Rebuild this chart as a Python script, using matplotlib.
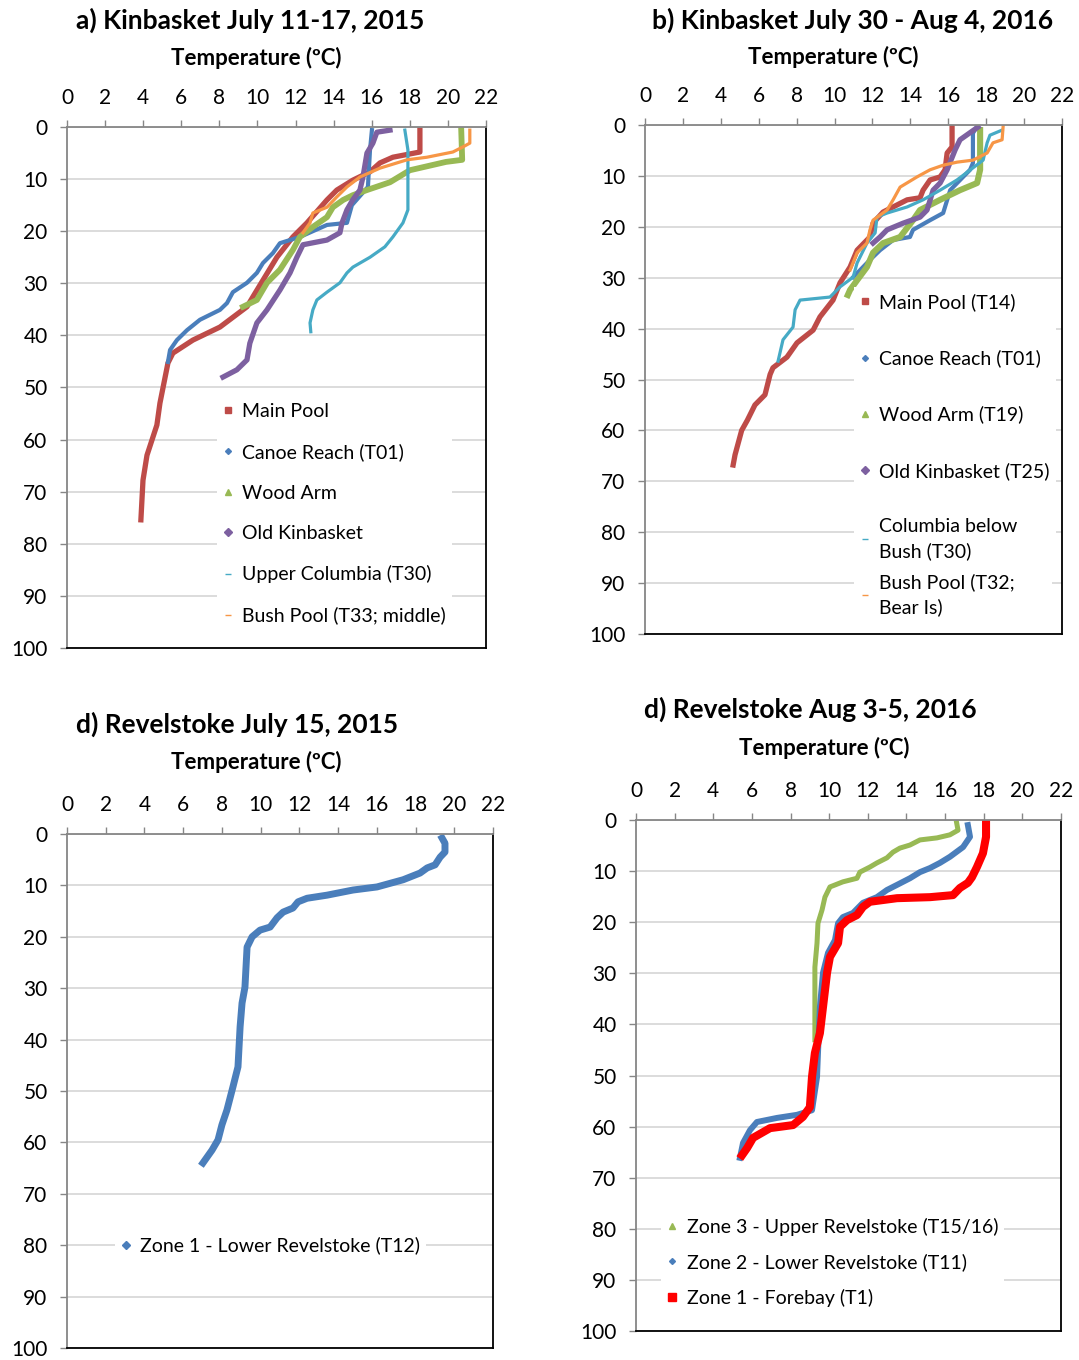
import matplotlib.pyplot as plt
from matplotlib.lines import Line2D

"""
Temperature profiles: Kinbasket and Revelstoke reservoirs, 2015 and 2016.
Depth (m) on the reversed y axis, temperature on the top x axis.
"""

plt.rcParams["font.family"] = ["Lato", "DejaVu Sans"]

RED = "#BE4B48"
BLUE = "#4A7EBB"
GREEN = "#98B954"
PURPLE = "#7D60A0"
TEAL = "#46AAC5"
ORANGE = "#F79646"

# ---- a) Kinbasket July 11-17, 2015 ----
a_main_t = [18.53, 18.53, 17.11, 16.43, 15.91, 15.01, 14.17, 13.65, 12.60, 11.86, 11.02, 10.29,
            9.76, 9.45, 8.03, 6.61, 5.56, 5.30, 4.88, 4.72, 4.46, 4.20, 3.99, 3.88]
a_main_d = [0.6, 4.8, 5.8, 6.9, 8.6, 10.2, 12.1, 14.0, 18.4, 21.1, 25.0, 29.4,
            32.6, 34.5, 38.4, 40.9, 43.4, 45.3, 53.0, 57.2, 60.1, 63.0, 67.8, 75.4]
a_canoe_t = [16.01, 15.91, 15.80, 14.96, 14.70, 13.65, 12.23, 11.18, 10.81, 10.29, 9.97, 9.45,
             8.71, 8.40, 8.03, 6.98, 6.30, 5.77, 5.41, 5.30]
a_canoe_d = [0.6, 4.4, 11.5, 15.0, 18.4, 18.8, 21.1, 22.3, 24.2, 26.1, 28.0, 29.9,
             31.7, 33.8, 35.1, 37.0, 39.0, 40.9, 42.8, 45.1]
a_wood_t = [20.7, 20.75, 19.9, 18.0, 16.96, 15.75, 15.0, 14.5, 13.96, 13.65, 12.9, 12.23,
            11.86, 11.18, 10.5, 9.97, 9.24]
a_wood_d = [0.6, 6.3, 6.7, 8.3, 10.6, 12.1, 13.1, 14.0, 15.4, 17.3, 19.2, 21.1,
            23.6, 27.4, 29.9, 33.2, 34.5]
a_old_t = [16.96, 16.27, 16.06, 15.75, 15.54, 15.38, 15.0, 14.7, 14.44, 14.33, 13.65, 12.39,
           12.07, 11.71, 11.18, 10.5, 9.97, 9.6, 9.45, 8.92, 8.19]
a_old_d = [0.6, 1.0, 3.1, 5.0, 9.6, 12.1, 14.0, 15.9, 18.4, 20.3, 21.7, 22.6,
           25.0, 28.0, 31.3, 35.1, 37.6, 41.5, 44.7, 46.6, 48.0]
a_upper_t = [17.74, 17.9, 17.9, 17.64, 17.11, 16.69, 15.91, 15.01, 14.7, 14.33, 13.65, 13.12,
             12.91, 12.76, 12.8]
a_upper_d = [0.6, 4.4, 15.9, 18.4, 21.1, 23.0, 25.0, 26.9, 28.0, 29.9, 31.7, 33.2,
             35.1, 37.6, 39.3]
a_bush_t = [21.15, 21.15, 20.8, 20.26, 18.9, 17.85, 16.43, 15.38, 14.7, 14.17, 13.65, 12.91,
            12.76, 12.39]
a_bush_d = [0.6, 3.1, 3.8, 4.8, 5.8, 6.3, 7.9, 9.6, 11.5, 13.4, 15.4, 16.5,
            18.4, 20.3]
a_labels = ["Main Pool", "Canoe Reach (T01)", "Wood Arm", "Old Kinbasket",
            "Upper Columbia (T30)", "Bush Pool (T33; middle)"]

# ---- b) Kinbasket July 30 - Aug 4, 2016 ----
b_main_t = [16.2, 16.2, 15.94, 15.83, 15.57, 15.04, 14.67, 14.51, 13.83, 13.09, 12.56, 12.03,
            11.87, 11.19, 10.82, 10.29, 9.92, 9.23, 8.87, 8.02, 7.49, 6.75, 6.6, 6.33,
            5.8, 5.4, 5.1, 4.75, 4.65]
b_main_d = [0.0, 4.3, 5.5, 8.8, 10.2, 10.8, 12.8, 14.3, 14.7, 16.1, 17.1, 19.3,
            22.0, 24.6, 27.9, 31.0, 34.4, 37.7, 40.3, 42.8, 45.6, 47.7, 49.0, 53.0,
            55.0, 58.0, 60.0, 64.8, 66.8]
b_canoe_t = [17.57, 17.3, 17.3, 17.15, 16.1, 15.73, 15.04, 14.14, 13.98, 13.09, 12.4, 11.87,
             11.35, 10.98]
b_canoe_d = [0.0, 1.6, 7.5, 8.8, 12.8, 17.3, 18.7, 20.6, 22.0, 22.6, 24.6, 26.5,
             28.5, 29.9]
b_wood_t = [17.68, 17.68, 17.52, 16.62, 15.57, 14.51, 14.14, 13.46, 12.56, 12.03, 11.71, 11.19,
            10.82, 10.7]
b_wood_d = [1.0, 8.8, 11.4, 12.8, 14.7, 16.7, 18.7, 22.0, 23.2, 25.1, 27.9, 30.5,
            32.4, 33.4]
b_old_t = [17.57, 16.62, 16.36, 15.94, 15.57, 15.2, 14.88, 14.51, 13.61, 12.77, 12.4, 12.03]
b_old_d = [0.4, 2.9, 4.9, 8.8, 11.4, 12.8, 16.7, 18.1, 19.3, 20.6, 22.0, 23.2]
b_col_t = [18.84, 18.2, 18.05, 17.84, 17.31, 16.46, 15.57, 14.67, 13.83, 12.77, 12.24, 12.14,
           11.71, 11.19, 10.98, 10.29, 9.76, 8.18, 7.92, 7.81, 7.28, 7.02]
b_col_d = [1.0, 2.0, 3.5, 6.9, 8.4, 10.8, 12.8, 14.7, 16.1, 17.3, 18.1, 21.2,
           23.2, 27.1, 29.9, 31.8, 33.8, 34.4, 36.3, 39.7, 42.2, 46.4]
b_bush_t = [18.9, 18.84, 18.36, 18.05, 17.31, 16.46, 15.73, 15.04, 14.35, 13.46, 13.09, 12.77,
            12.03, 11.87, 11.71, 11.19, 10.82]
b_bush_d = [0.0, 2.9, 3.5, 5.5, 6.9, 7.3, 7.9, 8.8, 10.2, 12.2, 14.7, 16.7,
            18.7, 20.6, 23.2, 25.1, 28.5]
b_labels = ["Main Pool (T14)", "Canoe Reach (T01)", "Wood Arm (T19)", "Old Kinbasket (T25)",
            "Columbia below\nBush (T30)", "Bush Pool (T32;\nBear Is)"]

# ---- d) Revelstoke July 15, 2015 ----
c_zone1_t = [19.37, 19.52, 19.52, 19.27, 19.01, 18.6, 18.23, 17.36, 16.01, 14.77, 13.43, 12.40,
             11.93, 11.67, 11.16, 10.85, 10.49, 9.97, 9.56, 9.30, 9.19, 9.04, 8.94, 8.83,
             8.57, 8.26, 8.0, 7.8, 7.49, 7.02]
c_zone1_d = [0.8, 1.8, 3.5, 4.5, 6.0, 6.6, 7.6, 8.9, 10.3, 10.9, 11.9, 12.5,
             13.2, 14.4, 15.2, 16.3, 18.1, 18.7, 20.0, 22.0, 29.8, 32.9, 37.5, 45.3,
             49.2, 53.7, 56.6, 59.5, 61.5, 64.0]
c_labels = ["Zone 1 - Lower Revelstoke (T12)"]

# ---- d) Revelstoke Aug 3-5, 2016 ----
d_zone3_t = [16.6, 16.67, 16.25, 15.58, 14.7, 14.18, 13.66, 13.3, 12.99, 12.47, 12.11, 11.59,
             11.44, 10.71, 10.04, 9.78, 9.63, 9.42, 9.37, 9.26, 9.26, 9.26]
d_zone3_d = [0.6, 2.0, 2.9, 3.5, 3.9, 4.9, 5.5, 6.3, 7.4, 8.4, 9.2, 10.2,
             11.4, 12.1, 13.1, 15.1, 17.6, 20.2, 24.1, 28.8, 41.7, 43.0]
d_zone2_t = [17.18, 17.29, 16.93, 16.25, 15.73, 15.22, 14.7, 14.18, 13.51, 12.99, 12.47, 11.75,
             11.23, 10.71, 10.46, 10.3, 9.94, 9.68, 9.52, 9.42, 9.37, 9.11, 8.33, 7.3,
             6.26, 5.9, 5.54, 5.38]
d_zone2_d = [1.0, 3.3, 5.3, 7.2, 8.4, 9.4, 10.2, 11.4, 12.7, 13.7, 15.1, 16.2,
             18.2, 19.0, 20.2, 23.5, 26.0, 29.9, 36.6, 45.6, 50.3, 56.8, 57.7, 58.3,
             59.1, 60.7, 63.2, 66.1]
d_zone1_t = [18.12, 18.12, 17.96, 17.65, 17.39, 17.18, 16.77, 16.41, 15.22, 13.51, 12.11, 11.75,
             11.44, 10.92, 10.56, 10.46, 10.04, 9.89, 9.52, 9.26, 9.11, 9.0, 8.64, 8.13,
             6.94, 6.06, 5.75, 5.49]
d_zone1_d = [0.2, 3.3, 6.5, 9.2, 11.2, 12.3, 13.3, 14.7, 15.1, 15.3, 16.0, 17.0,
             18.6, 19.6, 20.9, 24.1, 26.8, 29.9, 41.7, 45.6, 50.3, 56.2, 58.1, 59.7,
             60.3, 62.2, 64.2, 65.6]
d_labels = ["Zone 3 - Upper Revelstoke (T15/16)", "Zone 2 - Lower Revelstoke (T11)",
            "Zone 1 - Forebay (T1)"]

W, H = 1079, 1360
TICK_SIZE = 15
LEGEND_SIZE = 14
TITLE_SIZE = 19
CAPTION_SIZE = 16


def add_axes_px(fig, left, top, right, bottom):
    return fig.add_axes([left / W, 1 - bottom / H, (right - left) / W, (bottom - top) / H])


def style_axes(ax):
    ax.set_xlim(0, 22)
    ax.set_ylim(100, 0)
    ax.set_xticks(range(0, 23, 2))
    ax.set_yticks(range(0, 101, 10))
    ax.xaxis.tick_top()
    ax.tick_params(axis="x", direction="out", length=5, width=1, color="#868686",
                   pad=9, labelsize=TICK_SIZE)
    ax.tick_params(axis="y", direction="out", length=5, width=1, color="#868686",
                   pad=9, labelsize=TICK_SIZE)
    ax.grid(axis="y", color="#D9D9D9", linewidth=1.3)
    ax.set_axisbelow(True)
    for side in ["top", "left"]:
        ax.spines[side].set_color("#868686")
        ax.spines[side].set_linewidth(1.3)
    for side in ["right", "bottom"]:
        ax.spines[side].set_color("#000000")
        ax.spines[side].set_linewidth(1.3)


def add_legend(ax, handles, labels, anchor, spacing, linespacing=1.2, mode=None):
    leg = ax.legend(handles, labels, loc="upper left", bbox_to_anchor=anchor, mode=mode,
                    fontsize=LEGEND_SIZE, frameon=True, framealpha=1, facecolor="white",
                    edgecolor="none", fancybox=False, handlelength=0.5,
                    handletextpad=0.5, labelspacing=spacing, borderpad=0.3)
    for text in leg.get_texts():
        text.set_linespacing(linespacing)
    # above the grid and curves, below the plot frame
    leg.set_zorder(2.2)
    ax.add_artist(leg)
    return leg


def marker(color, shape, size=4):
    return Line2D([], [], color=color, marker=shape, linestyle="none", markersize=size)


def fig_text(fig, x, y, text, **kw):
    fig.text(x / W, 1 - y / H, text, ha="center", va="center", **kw)


fig = plt.figure(figsize=(W / 100, H / 100), dpi=100)

# a)
ax_a = add_axes_px(fig, 67, 127, 486, 648)
style_axes(ax_a)
ax_a.plot(a_main_t, a_main_d, color=RED, lw=3.8)
ax_a.plot(a_canoe_t, a_canoe_d, color=BLUE, lw=3.0)
ax_a.plot(a_wood_t, a_wood_d, color=GREEN, lw=4.2)
ax_a.plot(a_old_t, a_old_d, color=PURPLE, lw=3.8)
ax_a.plot(a_upper_t, a_upper_d, color=TEAL, lw=2.3)
ax_a.plot(a_bush_t, a_bush_d, color=ORANGE, lw=2.3)
add_legend(ax_a, [marker(RED, "s"), marker(BLUE, "D", 3), marker(GREEN, "^"),
                  marker(PURPLE, "D"), marker(TEAL, "_"), marker(ORANGE, "_")],
           a_labels, (0.335, 0.50), 1.2)

# b)
ax_b = add_axes_px(fig, 645, 125, 1062, 634)
style_axes(ax_b)
ax_b.plot(b_main_t, b_main_d, color=RED, lw=3.8)
ax_b.plot(b_canoe_t, b_canoe_d, color=BLUE, lw=3.0)
ax_b.plot(b_wood_t, b_wood_d, color=GREEN, lw=4.4)
ax_b.plot(b_old_t, b_old_d, color=PURPLE, lw=3.8)
ax_b.plot(b_col_t, b_col_d, color=TEAL, lw=2.3)
ax_b.plot(b_bush_t, b_bush_d, color=ORANGE, lw=2.3)
b_handles = [marker(RED, "s"), marker(BLUE, "D", 3), marker(GREEN, "^"),
             marker(PURPLE, "D"), marker(TEAL, "_"), marker(ORANGE, "_")]
add_legend(ax_b, b_handles[:5], b_labels[:5], (0.478, 0.70), 1.97, linespacing=1.5)
add_legend(ax_b, b_handles[5:], b_labels[5:], (0.478, 0.0, 0.522, 0.15), 0.5,
           linespacing=1.5, mode="expand")

# c) Revelstoke 2015
ax_c = add_axes_px(fig, 67, 834, 493, 1348)
style_axes(ax_c)
ax_c.plot(c_zone1_t, c_zone1_d, color=BLUE, lw=5.0)
add_legend(ax_c, [marker(BLUE, "D")], c_labels, (0.09, 0.247), 0.5)

# d) Revelstoke 2016
ax_d = add_axes_px(fig, 636, 820, 1061, 1331)
style_axes(ax_d)
ax_d.plot(d_zone3_t, d_zone3_d, color=GREEN, lw=3.6)
ax_d.plot(d_zone2_t, d_zone2_d, color=BLUE, lw=4.3)
ax_d.plot(d_zone1_t, d_zone1_d, color="#FF0000", lw=5.8)
add_legend(ax_d, [marker(GREEN, "^"), marker(BLUE, "D", 3), marker("#FF0000", "s", 6)],
           d_labels, (0.037, 0.252), 0.9)

# titles and axis captions
fig_text(fig, 250, 20, "a) Kinbasket July 11-17, 2015", fontsize=TITLE_SIZE, fontweight="bold")
fig_text(fig, 853, 20, "b) Kinbasket July 30 - Aug 4, 2016", fontsize=TITLE_SIZE, fontweight="bold")
fig_text(fig, 237, 724, "d) Revelstoke July 15, 2015", fontsize=TITLE_SIZE, fontweight="bold")
fig_text(fig, 810, 709, "d) Revelstoke Aug 3-5, 2016", fontsize=TITLE_SIZE, fontweight="bold")
for x, y in [(256, 58), (833, 57), (256, 762), (824, 748)]:
    fig_text(fig, x, y, "Temperature (ºC)", fontsize=CAPTION_SIZE, fontweight="bold")

fig.savefig("out.png", dpi=100)
